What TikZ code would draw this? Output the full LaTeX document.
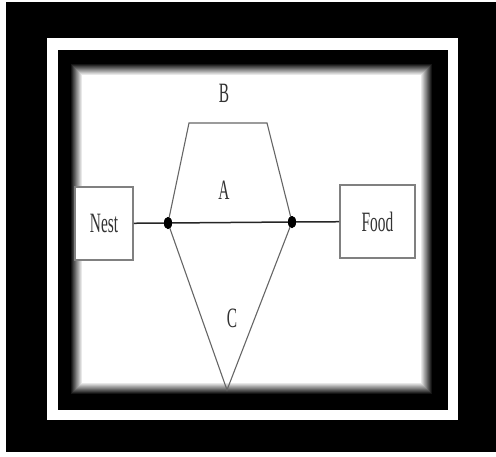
\documentclass[tikz,border=0pt]{standalone}
\usepackage{fontspec}
\setmainfont{Liberation Serif}
\usetikzlibrary{shapes.geometric}
\newcommand{\narrow}[1]{\scalebox{0.55}[1]{#1}}
\begin{document}
\begin{tikzpicture}[x=1pt,y=-1pt,
  box/.style={draw=black!50, line width=1.6pt, fill=white, inner sep=0pt,
    text=black!80, font=\fontsize{28}{30}\selectfont},
  lbl/.style={inner sep=0pt, text=black!80, font=\fontsize{28}{30}\selectfont},
  dot/.style={ellipse, fill=black, inner sep=0pt, minimum width=8, minimum height=12},
  edge/.style={draw=black!60, line width=1.1pt},
  path/.style={draw=black!85, line width=1.5pt}]
\useasboundingbox (0,0) rectangle (496,456);
% frame
\fill[white] (0,0) rectangle (496,456);
\fill[black] (6,2) rectangle (496,452);
\fill[white] (47,38) rectangle (458,420);
\fill[black] (58,50) rectangle (448,410);
% soft inner glow of the panel
\foreach \k in {0,...,12} {
  \pgfmathtruncatemacro\c{100*\k/12}
  \fill[white!\c!black] (70+\k,63+\k) rectangle (433-\k,395-\k);
}
% nodes
\node[box, minimum width=58, minimum height=73] (nest) at (104,223.5) {\narrow{Nest}};
\node[box, minimum width=75, minimum height=73] (food) at (377.5,221.5) {\narrow{Food}};
\node[dot] (l) at (168,223) {};
\node[dot] (r) at (292,222) {};
\coordinate (tl) at (189,123);
\coordinate (tr) at (267,123);
\coordinate (bot) at (227,390);
% routes
\draw[edge] (l.center) -- (tl) -- (tr) -- (r.center);
\draw[edge] (l.center) -- (bot) -- (r.center);
\draw[path] (nest) -- (l.center) -- (r.center) -- (food);
\node[dot] at (l) {};
\node[dot] at (r) {};
% labels
\node[lbl] (lb) at (224,93) {\narrow{B}};
\node[lbl] (la) at (224,190) {\narrow{A}};
\node[lbl] (lc) at (232,318) {\narrow{C}};
\end{tikzpicture}
\end{document}
